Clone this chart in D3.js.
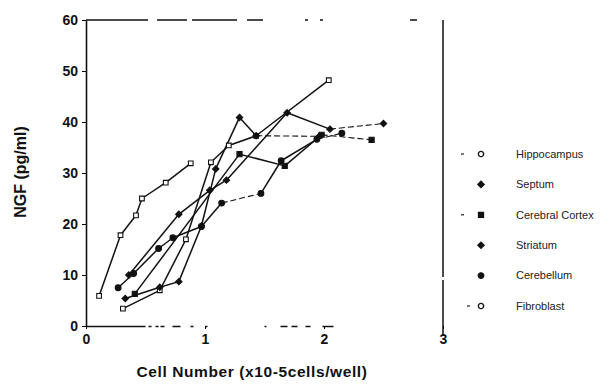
<!DOCTYPE html>
<html>
<head>
<meta charset="utf-8">
<script src="https://cdn.jsdelivr.net/npm/d3@7"></script>
<style>
  body { margin: 0; background: #fff; }
  svg { display: block; }
</style>
</head>
<body>
<div id="visContainer"></div>
<script>
// values (x in 10^5 cells/well, y in pg/ml)
const seriesNames = ["Hippocampus", "Septum", "Cerebral Cortex", "Striatum", "Cerebellum", "Fibroblast"];

const hippocampus = [[0.31, 3.4], [0.62, 7.0], [0.84, 17.0], [1.05, 32.1], [1.20, 35.4], [1.43, 37.3], [2.04, 48.2]];
const septum = [[0.33, 5.4], [0.62, 7.6], [0.78, 8.7], [0.97, 19.6], [1.09, 30.8], [1.29, 40.9], [1.43, 37.3], [1.96, 37.2]];
const cortex = [[0.41, 6.3], [1.29, 33.7], [1.67, 31.4], [1.98, 37.5], [2.40, 36.5]];
const striatum = [[0.36, 10.0], [0.78, 21.9], [1.04, 26.6], [1.18, 28.6], [1.69, 41.8], [2.05, 38.6], [2.50, 39.7]];
const cerebellum = [[0.27, 7.5], [0.40, 10.3], [0.61, 15.2], [0.73, 17.3], [0.97, 19.5], [1.14, 24.1], [1.47, 26.0], [1.64, 32.4], [1.94, 36.6], [2.15, 37.8]];
const fibroblast = [[0.11, 5.9], [0.29, 17.8], [0.42, 21.7], [0.47, 25.0], [0.67, 28.1], [0.88, 31.9]];

const xTicks = [0, 1, 2, 3];
const yTicks = [0, 10, 20, 30, 40, 50, 60];

function makeVis() {
  const width = 614;
  const height = 389;

  const svg = d3.create("svg")
    .attr("width", width)
    .attr("height", height);
  document.querySelector("#visContainer").append(svg.node());

  const xScale = d3.scaleLinear().domain([0, 3]).range([86, 443]);
  const yScale = d3.scaleLinear().domain([0, 60]).range([326, 20]);

  // which segment (index of its first point) is drawn dashed
  const dashedSeg = {"Septum": [6], "Cerebral Cortex": [3], "Striatum": [5], "Cerebellum": [5, 8]};
  const diamond = d3.symbolDiamond2 || d3.symbolDiamond;
  const symbols = {
    "Hippocampus": d3.symbolSquare, "Septum": diamond, "Cerebral Cortex": d3.symbolSquare,
    "Striatum": diamond, "Cerebellum": d3.symbolCircle, "Fibroblast": d3.symbolSquare
  };
  const openMark = {"Hippocampus": true, "Fibroblast": true};
  const dataBy = {
    "Hippocampus": hippocampus, "Septum": septum, "Cerebral Cortex": cortex,
    "Striatum": striatum, "Cerebellum": cerebellum, "Fibroblast": fibroblast
  };

  // frame: broken top line and right line like the scan
  svg.append("line")
    .attr("x1", xScale(0)).attr("x2", xScale(3))
    .attr("y1", yScale(60)).attr("y2", yScale(60))
    .attr("stroke", "#111").attr("stroke-width", 1.3)
    .attr("stroke-dasharray", "62,9,30,5,45,10,16,42,3,12,3,87,7,300");
  svg.append("line")
    .attr("x1", xScale(3)).attr("x2", xScale(3))
    .attr("y1", yScale(60)).attr("y2", 336)
    .attr("stroke", "#111").attr("stroke-width", 1.5)
    .attr("stroke-dasharray", "257,3,200");

  // axes
  const yAxis = svg.append("g")
    .attr("transform", `translate(${xScale(0)},0)`)
    .call(d3.axisLeft(yScale).tickValues(yTicks).tickSize(4).tickSizeOuter(0).tickPadding(4));
  yAxis.select(".domain").attr("stroke-width", 1.6).attr("stroke", "#111");
  yAxis.selectAll("text").attr("font-family", "Arial, 'Liberation Sans', sans-serif")
    .attr("font-weight", "bold").attr("font-size", 14).attr("fill", "#111");

  const xAxis = svg.append("g")
    .attr("transform", `translate(0,${yScale(0)})`)
    .call(d3.axisBottom(xScale).tickValues(xTicks).tickFormat(d3.format("d"))
      .tickSize(3).tickSizeOuter(0).tickPadding(5));
  xAxis.select(".domain").attr("stroke-width", 1.3).attr("stroke", "#111")
    .attr("stroke-dasharray", "59,3,3,4,3,2,4,8,8,10,3,12,2,57,2,14,7,4,6,8,5,12,11,300");
  xAxis.selectAll("text").attr("font-family", "Arial, 'Liberation Sans', sans-serif")
    .attr("font-weight", "bold").attr("font-size", 14).attr("fill", "#111");

  // axis titles
  svg.append("text")
    .attr("transform", "translate(26,172) rotate(-90)")
    .attr("text-anchor", "middle")
    .attr("font-family", "Arial, 'Liberation Sans', sans-serif")
    .attr("font-weight", "bold").attr("font-size", 16).attr("fill", "#111")
    .text("NGF  (pg/ml)");
  svg.append("text")
    .attr("x", 252).attr("y", 377)
    .attr("text-anchor", "middle")
    .attr("font-family", "Arial, 'Liberation Sans', sans-serif")
    .attr("font-weight", "bold").attr("font-size", 15.5).attr("fill", "#111")
    .attr("letter-spacing", 0.6)
    .text("Cell Number  (x10-5cells/well)");

  // lines, one path per segment so some can be dashed
  seriesNames.forEach((name) => {
    const pts = dataBy[name];
    const segs = d3.pairs(pts);
    svg.append("g").selectAll("path")
      .data(segs)
      .join("path")
      .attr("d", (d) => d3.line().x((p) => xScale(p[0])).y((p) => yScale(p[1]))(d))
      .attr("fill", "none")
      .attr("stroke", "#111")
      .attr("stroke-width", (d, i) => (dashedSeg[name] || []).includes(i) ? 1.1 : 1.5)
      .attr("stroke-dasharray", (d, i) => (dashedSeg[name] || []).includes(i) ? "6,3" : null);
  });

  // markers
  seriesNames.forEach((name) => {
    svg.append("g").selectAll("path")
      .data(dataBy[name])
      .join("path")
      .attr("transform", (d) => `translate(${xScale(d[0])},${yScale(d[1])})`)
      .attr("d", d3.symbol().type(symbols[name]).size(openMark[name] ? 22 : 26))
      .attr("fill", openMark[name] ? "#fff" : "#111")
      .attr("stroke", "#111")
      .attr("stroke-width", 1.1);
  });

  // legend
  const legend = svg.append("g").attr("transform", "translate(481,154)");
  const rows = legend.selectAll("g")
    .data(seriesNames)
    .join("g")
    .attr("transform", (d, i) => `translate(0,${i * 30.4})`);
  rows.filter((d) => d === "Hippocampus" || d === "Cerebral Cortex" || d === "Fibroblast")
    .append("line")
    .attr("x1", (d) => d === "Fibroblast" ? -14 : -20)
    .attr("x2", (d) => d === "Fibroblast" ? -11 : -17)
    .attr("stroke", "#222").attr("stroke-width", 1.2);
  rows.append("path")
    .attr("d", (d) => d3.symbol().type(openMark[d] ? d3.symbolCircle : symbols[d]).size(openMark[d] ? 22 : 24)())
    .attr("fill", (d) => openMark[d] ? "#fff" : "#111")
    .attr("stroke", "#111").attr("stroke-width", 1.4);
  rows.append("text")
    .attr("x", 35).attr("dy", "0.35em")
    .attr("font-family", "Arial, 'Liberation Sans', sans-serif")
    .attr("font-size", 11).attr("fill", "#222")
    .text((d) => d);
}

makeVis();
</script>
</body>
</html>
